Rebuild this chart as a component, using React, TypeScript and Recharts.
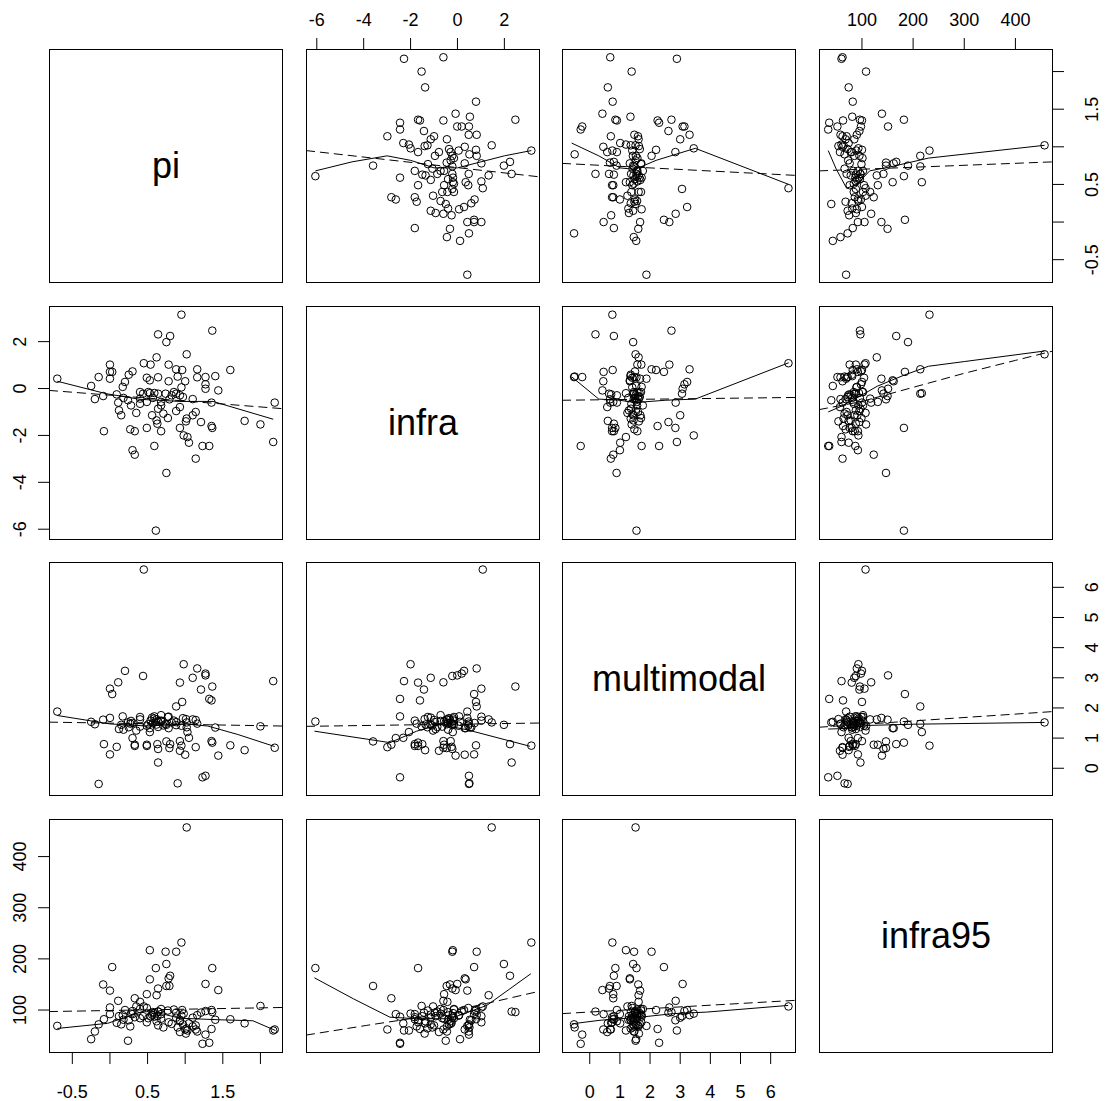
import React from "react";
import { ScatterChart, Scatter, XAxis, YAxis } from "recharts";

const piValues = [
  0.95, 1.36, 0.64, 0.8, 0.75, 1.02, 0.62, 0.0, 0.45, 0.54,
  0.78, 0.88, 0.96, 1.16, 1.6, 0.0, 0.03, 0.3, 0.25, -0.15,
  0.0, 0.49, 0.64, 0.9, 1.16, 1.27, 1.4, -0.7, 0.2, 0.53,
  0.78, 1.0, 1.27, 1.27, 1.44, -0.25, 0.17, -0.2, -0.09, 0.09,
  0.44, 0.53, 0.59, 0.64, 0.74, 0.85, 0.88, 0.93, 0.24, 0.4,
  0.49, 0.57, 0.68, 0.79, 0.97, 0.11, 1.35, 2.19, 0.12, 0.15,
  0.28, 0.4, 0.68, 0.71, 0.56, 0.35, 0.88, 0.93, 1.14, 1.1,
  1.02, 1.01, 0.62, 0.63, 0.77, 1.79, 2.0, 1.21, -0.08, 0.27,
  0.33, 0.49, 0.68, 0.93, 1.35, 1.36, 0.98, 1.03, 1.05, 0.59,
  0.3, 0.33, 1.23, 1.32, 2.17, 1.14, 0.75, 0.61, 0.51, 0.82,
  0.64, 1.1, 0.4, 0.18, 0.95,
];
const infraValues = [
  3.15, 2.47, 2.31, 2.24, 1.98, 1.46, 1.33, 1.02, 1.08, 1.02,
  1.02, 0.82, 0.79, 0.82, 0.79, 0.71, 0.71, 0.73, 0.59, 0.49,
  0.42, 0.46, 0.48, 0.51, 0.48, 0.49, 0.53, 0.42, 0.28, 0.35,
  0.31, 0.31, 0.18, -0.01, -0.08, 0.11, 0.07, -0.45, -0.32, -0.25,
  -0.22, -0.2, -0.19, -0.22, -0.22, -0.15, -0.22, -0.29, -0.5, -0.43,
  -0.57, -0.4, -0.57, -0.46, -0.36, -0.6, -0.6, -0.6, -0.93, -1.14,
  -0.72, -0.65, -0.72, -1.07, -1.14, -1.04, -0.96, -0.79, -1.0, -1.14,
  -1.28, -1.4, -1.36, -1.5, -1.26, -1.38, -1.53, -1.43, -1.82, -1.74,
  -1.82, -1.68, -1.82, -1.68, -1.6, -1.68, -2.0, -2.07, -2.31, -2.45,
  -2.63, -2.82, -2.45, -2.45, -2.28, -2.99, -3.6, -6.06, -0.15, -0.29,
  -0.86, -0.45, -0.15, -0.4, 0.05,
];
const multimodalValues = [
  0.75, 2.71, 0.19, 0.8, 1.44, 1.52, 1.62, 2.64, 6.59, 1.58,
  1.71, 2.05, 2.2, 3.31, 0.76, 0.46, 2.46, 1.5, 1.36, -0.52,
  1.67, 1.41, 1.55, -0.5, 1.48, -0.25, 1.35, 1.88, 3.23, 1.33,
  1.33, 0.45, 3.14, 3.08, 0.42, 1.54, 1.72, 1.46, 1.61, 0.71,
  3.06, 1.2, 1.65, 0.64, 1.47, 1.58, 1.43, 0.9, 1.52, 1.62,
  0.78, 1.49, 1.56, 0.67, 1.66, 2.85, 0.9, 0.68, 1.3, 1.44,
  1.57, 1.38, 1.76, 1.42, 1.68, 1.25, 1.53, 0.58, 1.6, 3.0,
  1.36, 1.63, 1.45, 0.8, 1.7, 0.6, 1.39, 2.61, 0.8, 1.48,
  0.74, 0.74, 1.58, 2.84, 2.25, 0.85, 3.45, 1.2, 1.01, 1.72,
  1.0, 0.78, -0.3, 2.3, 2.89, 0.7, 0.89, 1.55, 1.46, 1.52,
  1.37, 1.62, 1.7, 1.28, 1.41,
];
const infra95Values = [
  232, 96, 97, 167, 190, 457, 129, 105, 107, 88,
  76, 214, 100, 90, 82, 92, 184, 98, 80, 72,
  138, 104, 70, 66, 58, 52, 81, 69, 100, 160,
  162, 62, 98, 151, 139, 43, 90, 58, 150, 75,
  88, 217, 94, 142, 214, 101, 85, 78, 40, 116,
  131, 96, 83, 147, 72, 118, 100, 62, 88, 72,
  93, 84, 102, 66, 91, 107, 95, 57, 70, 85,
  64, 54, 78, 88, 99, 74, 108, 95, 82, 68,
  86, 76, 92, 80, 63, 182, 93, 60, 74, 87,
  92, 123, 34, 36, 60, 62, 147, 182, 84, 73,
  97, 68, 102, 81, 89,
];

const varNames = ["pi", "infra", "multimodal", "infra95"];
const columns = [piValues, infraValues, multimodalValues, infra95Values];

// axis ranges and ticks
const domains: [number, number][] = [
  [-0.81, 2.3],
  [-6.46, 3.52],
  [-0.92, 6.84],
  [16, 473.5],
];
const piTicks = [-0.5, 0, 0.5, 1, 1.5, 2];
const piTickLabels = [-0.5, 0.5, 1.5];
const infraTicks = [-6, -4, -2, 0, 2];
const multimodalTicks = [0, 1, 2, 3, 4, 5, 6];
const infra95Ticks = [100, 200, 300, 400];
const allTicks = [piTicks, infraTicks, multimodalTicks, infra95Ticks];
const tickLabels = [piTickLabels, infraTicks, multimodalTicks, infra95Ticks];

// smoother curves (solid) and fitted lines (dashed), [x, y] per panel "row-col"
const smoothInfraPi = [[-6.06, 0.68], [-4.5, 0.8], [-3.0, 0.88], [-2.0, 0.82], [-1.0, 0.72], [0, 0.72], [1.0, 0.8], [2.0, 0.88], [3.15, 0.95]];
const fitInfraPi = [[-6.46, 0.95], [3.52, 0.6]];
const smoothMultiPi = [[-0.6, 1.05], [0.3, 0.88], [1.0, 0.72], [1.5, 0.7], [2.2, 0.82], [3.5, 0.98], [6.6, 0.5]];
const fitMultiPi = [[-0.92, 0.78], [6.84, 0.62]];
const smoothI95Pi = [[34, 0.95], [50, 0.7], [70, 0.45], [90, 0.5], [115, 0.68], [160, 0.74], [230, 0.85], [457, 1.02]];
const fitI95Pi = [[16, 0.68], [473.5, 0.8]];
const smoothPiInfra = [[-0.7, 0.31], [-0.05, -0.22], [0.4, -0.46], [0.93, -0.55], [1.37, -0.55], [2.17, -1.31]];
const fitPiInfra = [[-0.81, -0.08], [2.3, -0.86]];
const smoothMultiInfra = [[-0.6, 0.5], [0.3, -0.45], [1.0, -0.5], [1.5, -0.6], [2.5, -0.5], [3.5, -0.45], [6.6, 1.1]];
const fitMultiInfra = [[-0.92, -0.5], [6.84, -0.38]];
const smoothI95Infra = [[34, -1.0], [60, -0.75], [90, -0.4], [130, 0.1], [180, 0.55], [230, 0.95], [300, 1.15], [457, 1.6]];
const fitI95Infra = [[16, -0.9], [100, -0.55], [200, 0.05], [300, 0.65], [400, 1.2], [473.5, 1.6]];
const smoothPiMulti = [[-0.7, 1.75], [0.0, 1.47], [0.5, 1.4], [1.0, 1.47], [1.3, 1.4], [1.7, 1.12], [2.19, 0.72]];
const fitPiMulti = [[-0.81, 1.53], [2.3, 1.4]];
const smoothInfraMulti = [[-6.1, 1.23], [-2.88, 0.85], [-1.74, 1.23], [-0.75, 1.45], [0.39, 1.28], [3.09, 0.73]];
const fitInfraMulti = [[-6.46, 1.39], [3.52, 1.5]];
const smoothI95Multi = [[34, 1.3], [70, 1.32], [110, 1.42], [200, 1.46], [457, 1.52]];
const fitI95Multi = [[16, 1.36], [473.5, 1.88]];
const smoothPiI95 = [[-0.7, 64], [-0.03, 74], [0.49, 100], [0.93, 84], [1.45, 81], [1.9, 79], [2.2, 60]];
const fitPiI95 = [[-0.81, 97], [2.3, 105]];
const smoothInfraI95 = [[-6.1, 163], [-4.44, 122], [-2.88, 86], [-1.74, 83], [-0.32, 83], [1.25, 109], [3.13, 171]];
const fitInfraI95 = [[-6.46, 51], [-3.87, 70], [-1.03, 90], [1.25, 113], [3.52, 137]];
const smoothMultiI95 = [[-0.6, 73], [0.34, 80], [1.67, 86], [2.77, 93], [3.88, 96], [6.58, 109]];
const fitMultiI95 = [[-0.92, 93], [6.84, 119]];

const curves: Record<string, number[][][]> = {
  "0-1": [smoothInfraPi, fitInfraPi],
  "0-2": [smoothMultiPi, fitMultiPi],
  "0-3": [smoothI95Pi, fitI95Pi],
  "1-0": [smoothPiInfra, fitPiInfra],
  "1-2": [smoothMultiInfra, fitMultiInfra],
  "1-3": [smoothI95Infra, fitI95Infra],
  "2-0": [smoothPiMulti, fitPiMulti],
  "2-1": [smoothInfraMulti, fitInfraMulti],
  "2-3": [smoothI95Multi, fitI95Multi],
  "3-0": [smoothPiI95, fitPiI95],
  "3-1": [smoothInfraI95, fitInfraI95],
  "3-2": [smoothMultiI95, fitMultiI95],
};

const edges = [49, 306, 562, 819];
const PLOT = 234;
const PAD = 60;
const FONT = '"Liberation Sans", Arial, sans-serif';

const toXY = (pts: number[][]) => pts.map(([x, y]) => ({ x, y }));

const XTick = (props: any, side: string, labels: number[]) => {
  const { x, y, payload } = props;
  if (!labels.includes(payload.value)) return <g />;
  const ty = side === "bottom" ? y + 34 : y - 12;
  return (
    <text x={x} y={ty} textAnchor="middle" fontSize={18} fontFamily={FONT} fill="#000">
      {String(payload.value)}
    </text>
  );
};

const YTick = (props: any, side: string, labels: number[]) => {
  const { x, y, payload } = props;
  if (!labels.includes(payload.value)) return <g />;
  const bx = side === "left" ? x - 12 : x + 34.5;
  return (
    <text
      x={bx}
      y={y}
      transform={`rotate(-90, ${bx}, ${y})`}
      textAnchor="middle"
      fontSize={18}
      fontFamily={FONT}
      fill="#000"
    >
      {String(payload.value)}
    </text>
  );
};

const Panel = ({ row, col }: { row: number; col: number }) => {
  const xs = columns[col];
  const ys = columns[row];
  const points = xs.map((x, i) => ({ x, y: ys[i] }));
  const xSide = row === 0 && col % 2 === 1 ? "top" : row === 3 && col % 2 === 0 ? "bottom" : null;
  const ySide = col === 0 && row % 2 === 1 ? "left" : col === 3 && row % 2 === 0 ? "right" : null;
  const [smooth, fit] = curves[`${row}-${col}`];

  return (
    <div style={{ position: "absolute", left: edges[col] - PAD, top: edges[row] - PAD }}>
      <ScatterChart
        width={PLOT + 2 * PAD}
        height={PLOT + 2 * PAD}
        margin={{
          top: xSide === "top" ? 0 : PAD,
          bottom: xSide === "bottom" ? 0 : PAD,
          left: ySide === "left" ? 0 : PAD,
          right: ySide === "right" ? 0 : PAD,
        }}
      >
        <XAxis
          type="number"
          dataKey="x"
          domain={domains[col]}
          allowDataOverflow
          ticks={allTicks[col]}
          interval={0}
          orientation={xSide === "top" ? "top" : "bottom"}
          hide={!xSide}
          height={PAD}
          axisLine={false}
          tickSize={11}
          tickMargin={0}
          tickLine={{ stroke: "#000", strokeWidth: 1 }}
          tick={(p: any) => XTick(p, xSide || "bottom", tickLabels[col])}
        />
        <YAxis
          type="number"
          dataKey="y"
          domain={domains[row]}
          allowDataOverflow
          ticks={allTicks[row]}
          interval={0}
          orientation={ySide === "right" ? "right" : "left"}
          hide={!ySide}
          width={PAD}
          axisLine={false}
          tickSize={11}
          tickMargin={0}
          tickLine={{ stroke: "#000", strokeWidth: 1 }}
          tick={(p: any) => YTick(p, ySide || "left", tickLabels[row])}
        />
        <Scatter
          data={points}
          isAnimationActive={false}
          shape={(p: any) => (
            <circle cx={p.cx} cy={p.cy} r={3.8} fill="none" stroke="#000" strokeWidth={1} />
          )}
        />
        <Scatter
          data={toXY(smooth)}
          isAnimationActive={false}
          line={{ stroke: "#000", strokeWidth: 1 }}
          shape={() => <g />}
        />
        <Scatter
          data={toXY(fit)}
          isAnimationActive={false}
          line={{ stroke: "#000", strokeWidth: 1, strokeDasharray: "9 5" }}
          shape={() => <g />}
        />
      </ScatterChart>
    </div>
  );
};

export default function App() {
  const cells = [];
  for (let r = 0; r < 4; r++) {
    for (let c = 0; c < 4; c++) {
      cells.push(
        <div
          key={`f-${r}-${c}`}
          style={{
            position: "absolute",
            left: edges[c],
            top: edges[r],
            width: PLOT,
            height: PLOT,
            border: "1px solid #000",
            boxSizing: "border-box",
          }}
        />
      );
      if (r === c) {
        cells.push(
          <div
            key={`l-${r}`}
            style={{
              position: "absolute",
              left: edges[c],
              top: edges[r],
              width: PLOT,
              height: PLOT,
              display: "flex",
              alignItems: "center",
              justifyContent: "center",
              fontFamily: FONT,
              fontSize: 36,
              color: "#000",
            }}
          >
            {varNames[r]}
          </div>
        );
      } else {
        cells.push(<Panel key={`p-${r}-${c}`} row={r} col={c} />);
      }
    }
  }
  return (
    <div
      style={{
        position: "absolute",
        left: 0,
        top: 0,
        width: 1106,
        height: 1101,
        background: "#fff",
        overflow: "hidden",
      }}
    >
      {cells}
    </div>
  );
}
